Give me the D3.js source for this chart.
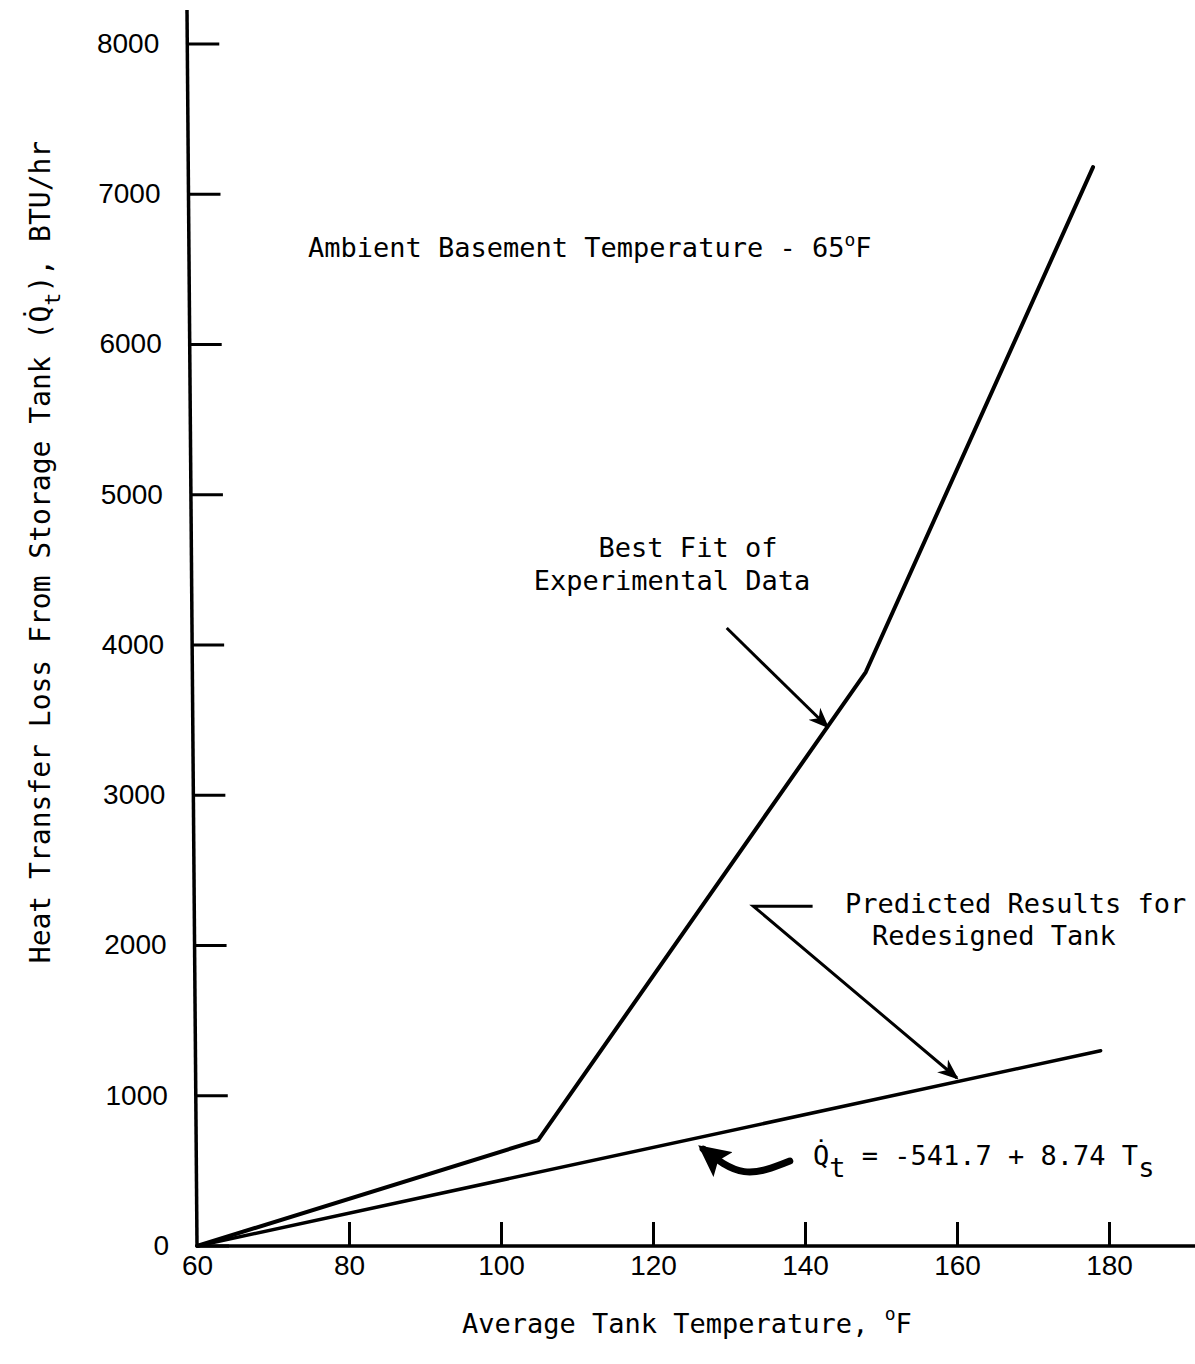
<!DOCTYPE html>
<html>
  <head>
    <meta charset="utf-8" />
    <title>Heat Transfer Loss From Storage Tank</title>
    <style>
      body{
        margin: 0;
        background: white;
      }
      .tick text{
        font-family: 'Liberation Sans', Arial, sans-serif;
        font-size: 28px;
        fill: black;
      }
      .note{
        font-family: 'DejaVu Sans Mono', monospace;
        font-size: 27px;
        fill: black;
      }
    </style>
  </head>
  <body>
    <script src="https://d3js.org/d3.v7.min.js"></script>
    <svg id="chart"></svg>
    <script>
      // data
      var xTicks = [60, 80, 100, 120, 140, 160, 180];
      var yTicks = [0, 1000, 2000, 3000, 4000, 5000, 6000, 7000, 8000];

      var bestFit = [
        {t: 60, q: 0},
        {t: 104.9, q: 705},
        {t: 148, q: 3820},
        {t: 177.9, q: 7181}
      ];
      var predicted = [
        {t: 60, q: 0},
        {t: 178.9, q: 1300}
      ];

      // annotation arrows, in data units
      var bestFitArrow = [{t: 129.7, q: 4113}, {t: 143.0, q: 3454}];
      var predictedArrow = [{t: 141.0, q: 2262}, {t: 133.2, q: 2262}, {t: 160.0, q: 1118}];
      var eqArrow = [{t: 138.0, q: 565}, {t: 132.0, q: 495}, {t: 126.6, q: 645}];

      var width = 1195;
      var height = 1364;

      var svg = d3.select("#chart")
        .attr("width", width)
        .attr("height", height)
        .style("background", "white");

      var x = d3.scaleLinear().domain([60, 180]).range([197, 1109]);
      var y = d3.scaleLinear().domain([0, 8000]).range([1246, 44]);

      // the scanned y axis leans a little to the left at the top
      function slant(py) {
        return -(y(0) - py) * 10 / 1236;
      }

      var defs = svg.append("defs");
      defs.append("marker")
        .attr("id", "head")
        .attr("viewBox", "0 0 10 10")
        .attr("refX", 9)
        .attr("refY", 5)
        .attr("markerWidth", 7)
        .attr("markerHeight", 7)
        .attr("markerUnits", "strokeWidth")
        .attr("orient", "auto")
        .append("path")
        .attr("d", "M0,1 L10,5 L0,9 L3,5 Z")
        .attr("fill", "black");
      defs.append("marker")
        .attr("id", "bighead")
        .attr("viewBox", "0 0 10 10")
        .attr("refX", 8)
        .attr("refY", 5)
        .attr("markerWidth", 4.5)
        .attr("markerHeight", 4.5)
        .attr("markerUnits", "strokeWidth")
        .attr("orient", "auto")
        .append("path")
        .attr("d", "M0,0 L10,5 L0,10 L2,5 Z")
        .attr("fill", "black");

      // x axis
      var xAxis = svg.append("g")
        .attr("transform", "translate(0," + y(0) + ")")
        .call(d3.axisBottom(x).tickValues(xTicks).tickFormat(d3.format("d"))
          .tickSizeInner(-24).tickSizeOuter(0).tickPadding(9));
      xAxis.select(".domain").remove();
      xAxis.selectAll(".tick line").attr("stroke", "black").attr("stroke-width", 3)
        .attr("display", function (d) { return d === 60 ? "none" : null; });
      svg.append("line")
        .attr("x1", x(60)).attr("x2", width)
        .attr("y1", y(0)).attr("y2", y(0))
        .attr("stroke", "black").attr("stroke-width", 3.5);

      // y axis
      var yAxis = svg.append("g")
        .attr("transform", "translate(" + x(60) + ",0)")
        .call(d3.axisLeft(y).tickValues(yTicks).tickFormat(d3.format("d"))
          .tickSizeInner(-32).tickSizeOuter(0).tickPadding(28));
      yAxis.select(".domain").remove();
      yAxis.selectAll(".tick")
        .attr("transform", function (d) {
          return "translate(" + slant(y(d)) + "," + y(d) + ")";
        });
      yAxis.selectAll(".tick line").attr("stroke", "black").attr("stroke-width", 3);
      svg.append("line")
        .attr("x1", x(60) + slant(10)).attr("y1", 10)
        .attr("x2", x(60)).attr("y2", y(0))
        .attr("stroke", "black").attr("stroke-width", 3.5);

      var line = d3.line()
        .x(function (d) { return x(d.t); })
        .y(function (d) { return y(d.q); });

      svg.append("path")
        .datum(bestFit)
        .attr("d", line)
        .attr("fill", "none")
        .attr("stroke", "black")
        .attr("stroke-width", 4)
        .attr("stroke-linejoin", "round")
        .attr("stroke-linecap", "round");

      svg.append("path")
        .datum(predicted)
        .attr("d", line)
        .attr("fill", "none")
        .attr("stroke", "black")
        .attr("stroke-width", 3.5)
        .attr("stroke-linecap", "round");

      // arrows
      svg.append("path")
        .datum(bestFitArrow)
        .attr("d", line)
        .attr("fill", "none")
        .attr("stroke", "black")
        .attr("stroke-width", 3)
        .attr("marker-end", "url(#head)");

      svg.append("path")
        .datum(predictedArrow)
        .attr("d", line)
        .attr("fill", "none")
        .attr("stroke", "black")
        .attr("stroke-width", 3)
        .attr("marker-end", "url(#head)");

      var curved = d3.line()
        .x(function (d) { return x(d.t); })
        .y(function (d) { return y(d.q); })
        .curve(d3.curveNatural);

      svg.append("path")
        .datum(eqArrow)
        .attr("d", curved)
        .attr("fill", "none")
        .attr("stroke", "black")
        .attr("stroke-width", 7)
        .attr("stroke-linecap", "round")
        .attr("marker-end", "url(#bighead)");

      // text
      var t1 = svg.append("text").attr("class", "note").attr("x", 308).attr("y", 257);
      t1.append("tspan").text("Ambient Basement Temperature - 65");
      t1.append("tspan").attr("dy", -11).style("font-size", "18px").text("o");
      t1.append("tspan").attr("dy", 11).text("F");

      svg.append("text").attr("class", "note")
        .attr("x", 688).attr("y", 557).attr("text-anchor", "middle")
        .text("Best Fit of");
      svg.append("text").attr("class", "note")
        .attr("x", 672).attr("y", 590).attr("text-anchor", "middle")
        .text("Experimental Data");

      svg.append("text").attr("class", "note")
        .attr("x", 845).attr("y", 913)
        .text("Predicted Results for");
      svg.append("text").attr("class", "note")
        .attr("x", 872).attr("y", 945)
        .text("Redesigned Tank");

      var eq = svg.append("text").attr("class", "note").attr("x", 813).attr("y", 1165);
      eq.append("tspan").text("Q\u0307");
      eq.append("tspan").attr("dy", 12).text("t");
      eq.append("tspan").attr("dy", -12).text(" = -541.7 + 8.74 T");
      eq.append("tspan").attr("dy", 12).text("s");

      var xt = svg.append("text").attr("class", "note")
        .attr("x", 462).attr("y", 1333);
      xt.append("tspan").text("Average Tank Temperature, ");
      xt.append("tspan").attr("dy", -13).style("font-size", "18px").text("o");
      xt.append("tspan").attr("dy", 13).text("F");

      var yt = svg.append("text").attr("class", "note")
        .attr("transform", "translate(50,552) rotate(-90)")
        .attr("text-anchor", "middle")
        .style("font-size", "28px");
      yt.append("tspan").text("Heat Transfer Loss From Storage Tank (Q\u0307");
      yt.append("tspan").attr("dy", 10).style("font-size", "22px").text("t");
      yt.append("tspan").attr("dy", -10).text("), BTU/hr");
    </script>
  </body>
</html>
